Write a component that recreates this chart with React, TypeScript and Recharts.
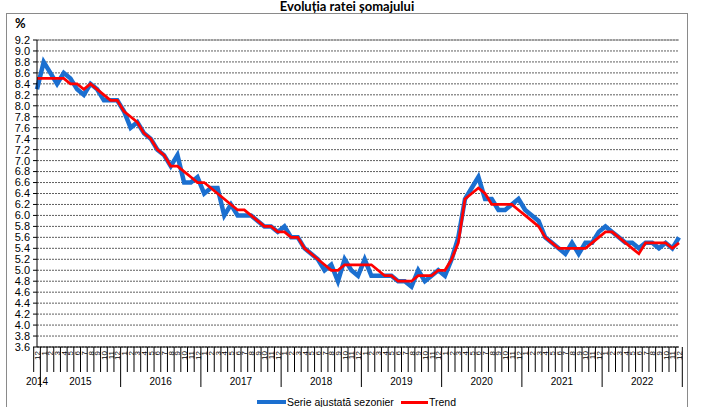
import React from "react";
import {
  LineChart,
  Line,
  XAxis,
  YAxis,
  CartesianGrid,
  ReferenceLine,
} from "recharts";

// categories: Dec 2014, then full years 2015-2022
const years = ["2014", "2015", "2016", "2017", "2018", "2019", "2020", "2021", "2022"];
const firstYearMonths = ["12"];
const monthLabels = ["1", "2", "3", "4", "5", "6", "7", "8", "9", "10", "11", "12"];

// Serie ajustată sezonier (%)
const seasonallyAdjusted = [
  8.3,
  8.8, 8.6, 8.4, 8.6, 8.5, 8.3, 8.2, 8.4, 8.3, 8.1, 8.1, 8.1,
  7.9, 7.6, 7.7, 7.5, 7.4, 7.2, 7.1, 6.9, 7.1, 6.6, 6.6, 6.7,
  6.4, 6.5, 6.5, 6.0, 6.2, 6.0, 6.0, 6.0, 5.9, 5.8, 5.8, 5.7,
  5.8, 5.6, 5.6, 5.4, 5.3, 5.2, 5.0, 5.1, 4.8, 5.2, 5.0, 4.9,
  5.2, 4.9, 4.9, 4.9, 4.9, 4.8, 4.8, 4.7, 5.0, 4.8, 4.9, 5.0,
  4.9, 5.2, 5.6, 6.3, 6.5, 6.7, 6.3, 6.3, 6.1, 6.1, 6.2, 6.3,
  6.1, 6.0, 5.9, 5.6, 5.5, 5.4, 5.3, 5.5, 5.3, 5.5, 5.5, 5.7,
  5.8, 5.7, 5.6, 5.5, 5.5, 5.4, 5.5, 5.5, 5.4, 5.5, 5.4, 5.6,
];

// Trend (%)
const trend = [
  8.5,
  8.5, 8.5, 8.5, 8.5, 8.4, 8.4, 8.3, 8.4, 8.3, 8.2, 8.1, 8.1,
  7.9, 7.8, 7.7, 7.5, 7.4, 7.2, 7.1, 6.9, 6.9, 6.8, 6.7, 6.6,
  6.6, 6.5, 6.4, 6.3, 6.2, 6.1, 6.1, 6.0, 5.9, 5.8, 5.8, 5.7,
  5.7, 5.6, 5.6, 5.4, 5.3, 5.2, 5.1, 5.0, 5.0, 5.1, 5.1, 5.1,
  5.1, 5.1, 5.0, 4.9, 4.9, 4.8, 4.8, 4.8, 4.9, 4.9, 4.9, 5.0,
  5.0, 5.2, 5.5, 6.3, 6.4, 6.5, 6.4, 6.2, 6.2, 6.2, 6.2, 6.1,
  6.0, 5.9, 5.8, 5.6, 5.5, 5.4, 5.4, 5.4, 5.4, 5.4, 5.5, 5.6,
  5.7, 5.7, 5.6, 5.5, 5.4, 5.3, 5.5, 5.5, 5.5, 5.5, 5.4, 5.5,
];

const yTicks = [
  3.6, 3.8, 4.0, 4.2, 4.4, 4.6, 4.8, 5.0, 5.2, 5.4, 5.6, 5.8, 6.0, 6.2, 6.4,
  6.6, 6.8, 7.0, 7.2, 7.4, 7.6, 7.8, 8.0, 8.2, 8.4, 8.6, 8.8, 9.0, 9.2,
];

const categories = years.flatMap((year, yi) =>
  (yi === 0 ? firstYearMonths : monthLabels).map((month) => ({ year, month }))
);

const data = categories.map((c, i) => ({
  key: `${c.year}-${c.month}`,
  year: c.year,
  month: c.month,
  sa: seasonallyAdjusted[i],
  trend: trend[i],
}));

const W = 701;
const H = 407;
const LEFT = 37;
const RIGHT = 22;
const BAND = (W - LEFT - RIGHT) / data.length;
const BLUE = "#1b6fd0";
const RED = "#ff0000";
const FONT = "'Liberation Sans', Arial, sans-serif";

// year -> center position (fractional index)
const yearCenter: Record<string, number> = {};
years.forEach((y) => {
  const idx = data.map((d, i) => (d.year === y ? i : -1)).filter((i) => i >= 0);
  yearCenter[y] = (idx[0] + idx[idx.length - 1]) / 2;
});

function MonthTick(props: any) {
  const { x, y, index } = props;
  const row = data[index];
  if (!row) return <g />;
  const left = x - BAND / 2;
  const yearStart = index > 0 && data[index - 1].year !== row.year;
  const last = index === data.length - 1;
  const c = yearCenter[row.year];
  const showYear = Math.floor(c) === index;
  return (
    <g>
      <line x1={left} x2={left} y1={y} y2={y + (yearStart ? 40 : 25)} stroke="#000" />
      {last && (
        <line x1={x + BAND / 2} x2={x + BAND / 2} y1={y} y2={y + 40} stroke="#000" />
      )}
      <text
        x={x + 3}
        y={y + 4}
        transform={`rotate(-90 ${x + 3} ${y + 4})`}
        textAnchor="end"
        fontSize={8}
        fontFamily={FONT}
        fill="#000"
      >
        {row.month}
      </text>
      {showYear && (
        <text
          x={x + (c - index) * BAND}
          y={y + 38}
          textAnchor="middle"
          fontSize={10}
          fontFamily={FONT}
          fill="#000"
        >
          {row.year}
        </text>
      )}
    </g>
  );
}

export default function App() {
  return (
    <div
      style={{
        position: "absolute",
        left: 0,
        top: 0,
        width: W,
        height: H,
        overflow: "hidden",
        background: "#fff",
        fontFamily: FONT,
      }}
    >
      <div
        style={{
          position: "absolute",
          left: 6,
          top: 13,
          width: 680,
          height: 420,
          border: "1px solid #8a8a8a",
        }}
      />
      <div
        style={{
          position: "absolute",
          left: 0,
          width: 694,
          top: 0,
          textAlign: "center",
          fontFamily: "Lato, 'Open Sans', sans-serif",
          fontWeight: 700,
          fontSize: 13,
          lineHeight: "13px",
        }}
      >
        Evoluția ratei șomajului
      </div>
      <div
        style={{
          position: "absolute",
          left: 15,
          top: 17,
          fontFamily: "Lato, sans-serif",
          fontWeight: 700,
          fontSize: 13,
          lineHeight: "13px",
        }}
      >
        %
      </div>

      <div style={{ position: "absolute", left: 0, top: 0 }}>
        <LineChart
          width={W}
          height={H}
          data={data}
          margin={{ top: 40, right: RIGHT, bottom: 0, left: 0 }}
        >
          <CartesianGrid
            vertical={false}
            stroke="#5e5e5e"
            strokeDasharray="2 1"
          />
          <XAxis
            dataKey="key"
            interval={0}
            height={60}
            tickSize={0}
            tickMargin={0}
            tickLine={false}
            axisLine={{ stroke: "#000" }}
            tick={(p: any) => <MonthTick {...p} />}
          />
          <YAxis
            width={LEFT}
            domain={[3.6, 9.2]}
            ticks={yTicks}
            interval={0}
            tickSize={4}
            tickMargin={3}
            tickFormatter={(v: number) => v.toFixed(1)}
            tick={{ fontSize: 11, fill: "#000", fontFamily: FONT }}
            tickLine={{ stroke: "#000" }}
            axisLine={{ stroke: "#000" }}
          />
          <YAxis
            yAxisId="right"
            orientation="right"
            width={0}
            domain={[3.6, 9.2]}
            tick={false}
            tickLine={false}
            axisLine={{ stroke: "#8a8a8a" }}
          />
          <ReferenceLine y={9.2} stroke="#8a8a8a" />
          <Line
            type="linear"
            dataKey="sa"
            stroke={BLUE}
            strokeWidth={4.5}
            dot={false}
            isAnimationActive={false}
          />
          <Line
            type="linear"
            dataKey="trend"
            stroke={RED}
            strokeWidth={2.75}
            dot={false}
            isAnimationActive={false}
          />
        </LineChart>
      </div>

      <div
        style={{
          position: "absolute",
          left: 257,
          top: 400,
          width: 29,
          height: 4,
          background: BLUE,
        }}
      />
      <div
        style={{
          position: "absolute",
          left: 287,
          top: 396,
          fontSize: 10.5,
          lineHeight: "12px",
        }}
      >
        Serie ajustată sezonier
      </div>
      <div
        style={{
          position: "absolute",
          left: 401,
          top: 401,
          width: 27,
          height: 3,
          background: RED,
        }}
      />
      <div
        style={{
          position: "absolute",
          left: 429,
          top: 396,
          fontSize: 10.5,
          lineHeight: "12px",
        }}
      >
        Trend
      </div>
    </div>
  );
}
